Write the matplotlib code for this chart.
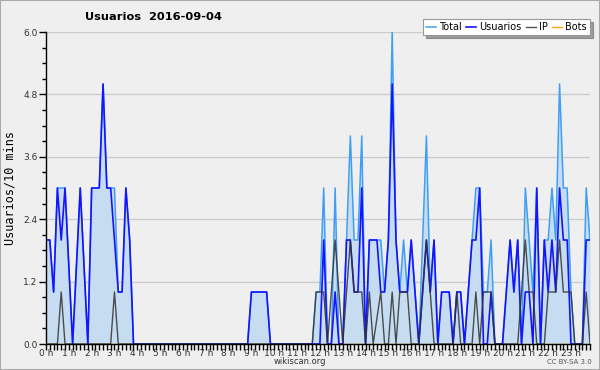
import numpy as np
import matplotlib
matplotlib.use("Agg")
import matplotlib.pyplot as plt
from matplotlib.patches import Rectangle
from matplotlib.ticker import MultipleLocator, FixedLocator

# valores cada 10 minutos (144 franjas), None = vertice no legible
total = [2, 2, 1, 3, 3, 3, None, 0, None, 3, None, 0,
         3, 3, 3, 5, 3, 3, 3, 1, 1, 3, 2, 0,
         0, 0, 0, 0, 0, 0, 0, 0, 0, 0, 0, 0,
         0, 0, 0, 0, 0, 0, 0, 0, 0, 0, 0, 0,
         0, 0, 0, 0, 0, 0, 1, 1, 1, 1, 1, 0,
         0, 0, 0, 0, 0, 0, 0, 0, 0, 0, 0, 1,
         1, 3, 0, 0, 3, 0, 0, 2, 4, 2, 2, 4,
         0, 2, 2, 2, 2, 1, 2, 6, 2, 1, 2, 1,
         2, 1, 0, 2, 4, 1, 2, 0, 1, 1, 1, 0,
         1, 1, 0, 1, 2, 3, 3, 1, 1, 2, 0, 0,
         0, 1, 2, 1, 2, 0, 3, 2, 1, 3, 0, 2,
         2, 3, 2, 5, 3, 3, 1, 0, 0, 0, 3, 2]
usuarios = [2, 2, 1, 3, 2, 3, None, 0, None, 3, None, 0,
            3, 3, 3, 5, 3, 3, 2, 1, 1, 3, 2, 0,
            0, 0, 0, 0, 0, 0, 0, 0, 0, 0, 0, 0,
            0, 0, 0, 0, 0, 0, 0, 0, 0, 0, 0, 0,
            0, 0, 0, 0, 0, 0, 1, 1, 1, 1, 1, 0,
            0, 0, 0, 0, 0, 0, 0, 0, 0, 0, 0, 0,
            0, 2, 0, 0, 1, 0, 0, 2, 2, 1, 1, 3,
            0, 2, 2, 2, 1, 1, 2, 5, 2, 1, 1, 1,
            2, 1, 0, 1, 2, 1, 2, 0, 1, 1, 1, 0,
            1, 1, 0, 1, 2, 2, 3, 0, 0, 1, 0, 0,
            0, 1, 2, 1, 2, 0, 1, 1, 0, 3, 0, 2,
            1, 2, 1, 3, 2, 2, 0, 0, 0, 0, 2, 2]
ip = [0, 0, 0, 0, 1, 0, 0, 0, 0, 0, 0, 0,
      0, 0, 0, 0, 0, 0, 1, 0, 0, 0, 0, 0,
      0, 0, 0, 0, 0, 0, 0, 0, 0, 0, 0, 0,
      0, 0, 0, 0, 0, 0, 0, 0, 0, 0, 0, 0,
      0, 0, 0, 0, 0, 0, 0, 0, 0, 0, 0, 0,
      0, 0, 0, 0, 0, 0, 0, 0, 0, 0, 0, 1,
      1, 1, 0, 1, 2, 1, 0, 1, 2, 1, 1, 1,
      0, 1, 0, None, 1, 0, 0, 1, 0, 1, 1, 1,
      0, 0, 0, 1, 2, 1, 0, 0, 0, 0, 0, 0,
      1, 0, 0, 0, 0, 1, 0, 1, 1, 1, 0, 0,
      0, 0, 0, 0, 0, 1, 2, 1, 1, 0, 0, 0,
      1, 1, 1, 2, 1, 1, 1, 0, 0, 0, 1, 0]
bots = [0] * 144

hour_labels = [f"{h} h" for h in range(24)]
y_ticks = [0.0, 1.2, 2.4, 3.6, 4.8, 6.0]

BG = "#efeff0"
FONT = ["Liberation Sans Narrow", "DejaVu Sans"]


def series(vals):
    v = np.array([np.nan if a is None else a for a in vals], dtype=float)
    x = np.arange(len(v)) / 6.0
    m = ~np.isnan(v)
    return x[m], v[m]


fig = plt.figure(figsize=(6, 3.7), dpi=100, facecolor=BG)
ax = fig.add_axes([46 / 600, 26 / 370, 544 / 600, 312 / 370])
ax.set_facecolor(BG)

xt, yt = series(total)
ax.fill_between(xt, 0, yt, color="#c6dcf0", lw=0, zorder=1)
ax.plot(*series(bots), color="#ffa500", lw=1, zorder=1.5, label="Bots")
ax.plot(xt, yt, color="#3f9ff5", lw=1.1, zorder=2, label="Total")
ax.plot(*series(usuarios), color="#1414ff", lw=1.2, zorder=2.1, label="Usuarios")
ax.plot(*series(ip), color="#333333", lw=1.0, alpha=0.85, zorder=2.2, label="IP")

ax.set_xlim(0, 143 / 6)
ax.set_ylim(0, 6.0)

ax.yaxis.set_major_locator(FixedLocator(y_ticks))
ax.yaxis.set_minor_locator(MultipleLocator(0.3))
ax.set_yticklabels([f"{v:.1f}" for v in y_ticks])
ax.xaxis.set_major_locator(FixedLocator(range(24)))
ax.xaxis.set_minor_locator(MultipleLocator(1 / 6))
ax.set_xticklabels(hour_labels)

ax.tick_params(axis="both", which="both", direction="out", colors="black",
               labelsize=6.5, pad=1)
ax.tick_params(axis="y", which="major", length=5, width=1)
ax.tick_params(axis="y", which="minor", length=3, width=1)
ax.tick_params(axis="x", which="both", length=4, width=1, pad=-0.3)
for lab in ax.get_xticklabels() + ax.get_yticklabels():
    lab.set_family(FONT)
    lab.set_color("#333333")

ax.grid(axis="y", which="major", color="#cccccc", lw=1)
ax.set_axisbelow(True)
for s in ["top", "right"]:
    ax.spines[s].set_visible(False)
for s in ["left", "bottom"]:
    ax.spines[s].set_color("black")
    ax.spines[s].set_linewidth(1)

ax.set_ylabel("Usuarios/10 mins", family="DejaVu Sans Mono", fontsize=8.5,
              labelpad=5)

fig.text(85 / 600, 1 - 17 / 370, "Usuarios  2016-09-04", family=FONT,
         fontsize=8.2, fontweight="bold", va="center", ha="left")
fig.text(0.5, 1 - 362 / 370, "wikiscan.org", family=FONT, fontsize=6,
         ha="center", va="center", color="#333333")
fig.text(592 / 600, 1 - 362 / 370, "CC BY-SA 3.0", family=FONT, fontsize=5,
         ha="right", va="center", color="#555555")

h, l = ax.get_legend_handles_labels()
order = [l.index(n) for n in ["Total", "Usuarios", "IP", "Bots"]]
leg = ax.legend([h[i] for i in order], [l[i] for i in order], ncol=4,
                loc="lower right", bbox_to_anchor=(1.0, 0.99),
                borderaxespad=0, handlelength=1.0,
                handletextpad=0.35, columnspacing=0.45, borderpad=0.3,
                frameon=True, fancybox=False, shadow=True,
                prop={"family": FONT, "size": 7})
leg.get_frame().set_edgecolor("#999999")
leg.get_frame().set_linewidth(0.8)
leg.set_zorder(5)

fig.patches.append(Rectangle((0, 0), 1, 1, transform=fig.transFigure,
                             fill=False, edgecolor="#aaaaaa", lw=1.5))

fig.savefig("out.png", dpi=100, facecolor=BG)
